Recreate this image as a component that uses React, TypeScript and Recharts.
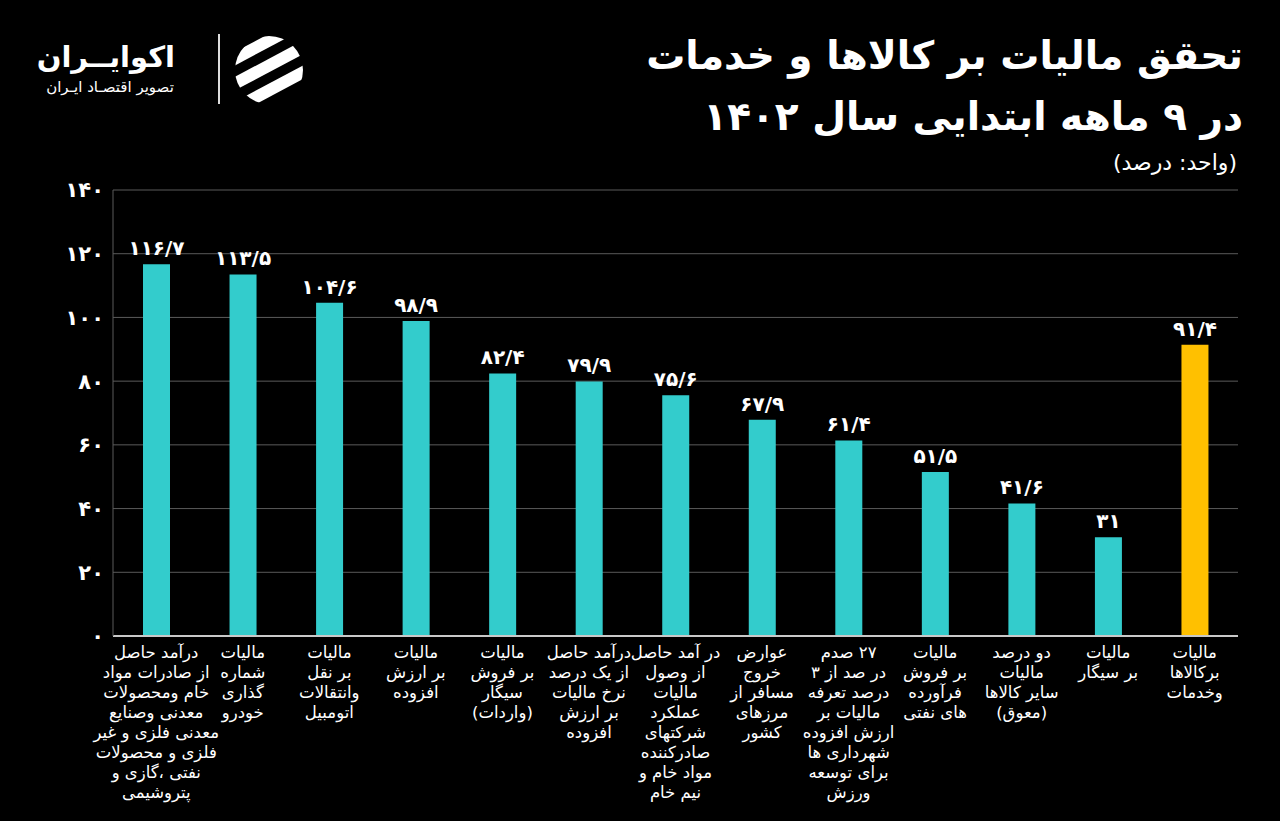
import React from "react";
import { BarChart, Bar, XAxis, YAxis, CartesianGrid, Cell, LabelList } from "recharts";

const categoryLines = [
  ["درآمد حاصل", "از صادرات مواد", "خام ومحصولات", "معدنی وصنایع", "معدنی فلزی و غیر", "فلزی و محصولات", "نفتی ،گازی و", "پتروشیمی"],
  ["مالیات", "شماره", "گذاری", "خودرو"],
  ["مالیات", "بر نقل", "وانتقالات", "اتومبیل"],
  ["مالیات", "بر ارزش", "افزوده"],
  ["مالیات", "بر فروش", "سیگار", "(واردات)"],
  ["درآمد حاصل", "از یک درصد", "نرخ مالیات", "بر ارزش", "افزوده"],
  ["در آمد حاصل", "از وصول", "مالیات", "عملکرد", "شرکتهای", "صادرکننده", "مواد خام و", "نیم خام"],
  ["عوارض", "خروج", "مسافر از", "مرزهای", "کشور"],
  ["۲۷ صدم", "در صد از ۳", "درصد تعرفه", "مالیات بر", "ارزش افزوده", "شهرداری ها", "برای توسعه", "ورزش"],
  ["مالیات", "بر فروش", "فرآورده", "های نفتی"],
  ["دو درصد", "مالیات", "سایر کالاها", "(معوق)"],
  ["مالیات", "بر سیگار"],
  ["مالیات", "برکالاها", "وخدمات"],
];

const realization = [116.7, 113.5, 104.6, 98.9, 82.4, 79.9, 75.6, 67.9, 61.4, 51.5, 41.6, 31, 91.4];

const yTicks = [0, 20, 40, 60, 80, 100, 120, 140];

const TEAL = "#33cccc";
const YELLOW = "#ffc000";
const FONT = "'DejaVu Sans', sans-serif";

const toFa = (v: number | string) =>
  String(v)
    .replace(".", "/")
    .replace(/\d/g, (d) => "۰۱۲۳۴۵۶۷۸۹"[Number(d)]);

const data = categoryLines.map((lines, i) => ({
  name: lines.join(" "),
  value: realization[i],
}));

function CategoryTick(props: any) {
  const { x, y, payload } = props;
  const lines = categoryLines[payload.index] ?? [];
  return (
    <text
      x={x}
      y={y + 14}
      fill="#fff"
      fontSize={16.5}
      fontFamily={FONT}
      textAnchor="middle"
      direction="rtl"
    >
      {lines.map((l, i) => (
        <tspan key={i} x={x} dy={i === 0 ? 0 : 20}>
          {l}
        </tspan>
      ))}
    </text>
  );
}

function Logo() {
  return (
    <div style={{ position: "absolute", left: 0, top: 0, width: 320, height: 120 }}>
      <div
        style={{
          position: "absolute",
          left: 45,
          top: 38,
          width: 130,
          textAlign: "center",
          direction: "rtl",
          color: "#fff",
          fontFamily: FONT,
        }}
      >
        <div style={{ fontSize: 29, fontWeight: 700, lineHeight: "38px" }}>اکوایــران</div>
        <div style={{ fontSize: 15, lineHeight: "22px" }}>تصویر اقتصـاد ایـران</div>
      </div>
      <div style={{ position: "absolute", left: 218, top: 34, width: 2, height: 70, background: "#ddd" }} />
      <svg style={{ position: "absolute", left: 232, top: 34 }} width={74} height={72} viewBox="0 0 74 72">
        <defs>
          <clipPath id="lc">
            <circle cx={37} cy={36} r={34} />
          </clipPath>
        </defs>
        <g clipPath="url(#lc)" fill="#fff">
          <rect x={-10} y={4} width={100} height={12} transform="rotate(-28 37 36)" />
          <rect x={-10} y={26} width={100} height={12} transform="rotate(-28 37 36)" />
          <rect x={-10} y={48} width={100} height={12} transform="rotate(-28 37 36)" />
        </g>
      </svg>
    </div>
  );
}

export default function App() {
  return (
    <div
      style={{
        position: "absolute",
        left: 0,
        top: 0,
        width: 1280,
        height: 821,
        background: "#000",
        overflow: "hidden",
        fontFamily: FONT,
      }}
    >
      <Logo />
      <div
        style={{
          position: "absolute",
          right: 37,
          top: 25,
          direction: "rtl",
          textAlign: "right",
          color: "#fff",
        }}
      >
        <div style={{ fontSize: 39, fontWeight: 700, lineHeight: "62px" }}>تحقق مالیات بر کالاها و خدمات</div>
        <div style={{ fontSize: 39, fontWeight: 700, lineHeight: "60px" }}>در ۹ ماهه ابتدایی سال ۱۴۰۲</div>
        <div style={{ fontSize: 22, lineHeight: "32px", marginRight: 6 }}>(واحد: درصد)</div>
      </div>
      <div style={{ position: "absolute", left: 0, top: 0 }}>
        <BarChart
          width={1280}
          height={821}
          data={data}
          margin={{ top: 190, right: 42, bottom: 0, left: 63 }}
        >
          <CartesianGrid vertical={false} stroke="#5a5a5a" strokeWidth={1} />
          <XAxis
            dataKey="name"
            interval={0}
            tick={<CategoryTick />}
            tickLine={false}
            axisLine={{ stroke: "#c8c8c8", strokeWidth: 2 }}
            height={185}
          />
          <YAxis
            domain={[0, 140]}
            ticks={yTicks}
            width={50}
            tickLine={false}
            tickMargin={3}
            axisLine={{ stroke: "#5a5a5a" }}
            tickFormatter={(v) => toFa(v)}
            tick={{ fill: "#fff", fontSize: 21, fontWeight: 700, fontFamily: FONT }}
          />
          <YAxis
            yAxisId="r"
            orientation="right"
            domain={[0, 140]}
            width={0}
            tick={false}
            tickLine={false}
            axisLine={{ stroke: "#5a5a5a" }}
          />
          <Bar dataKey="value" isAnimationActive={false} barSize={27}>
            {data.map((_, i) => (
              <Cell key={i} fill={i === data.length - 1 ? YELLOW : TEAL} />
            ))}
            <LabelList
              dataKey="value"
              position="top"
              offset={9}
              formatter={(v: any) => toFa(v)}
              fill="#fff"
              fontSize={20}
              fontWeight={700}
              fontFamily={FONT}
            />
          </Bar>
        </BarChart>
      </div>
    </div>
  );
}
